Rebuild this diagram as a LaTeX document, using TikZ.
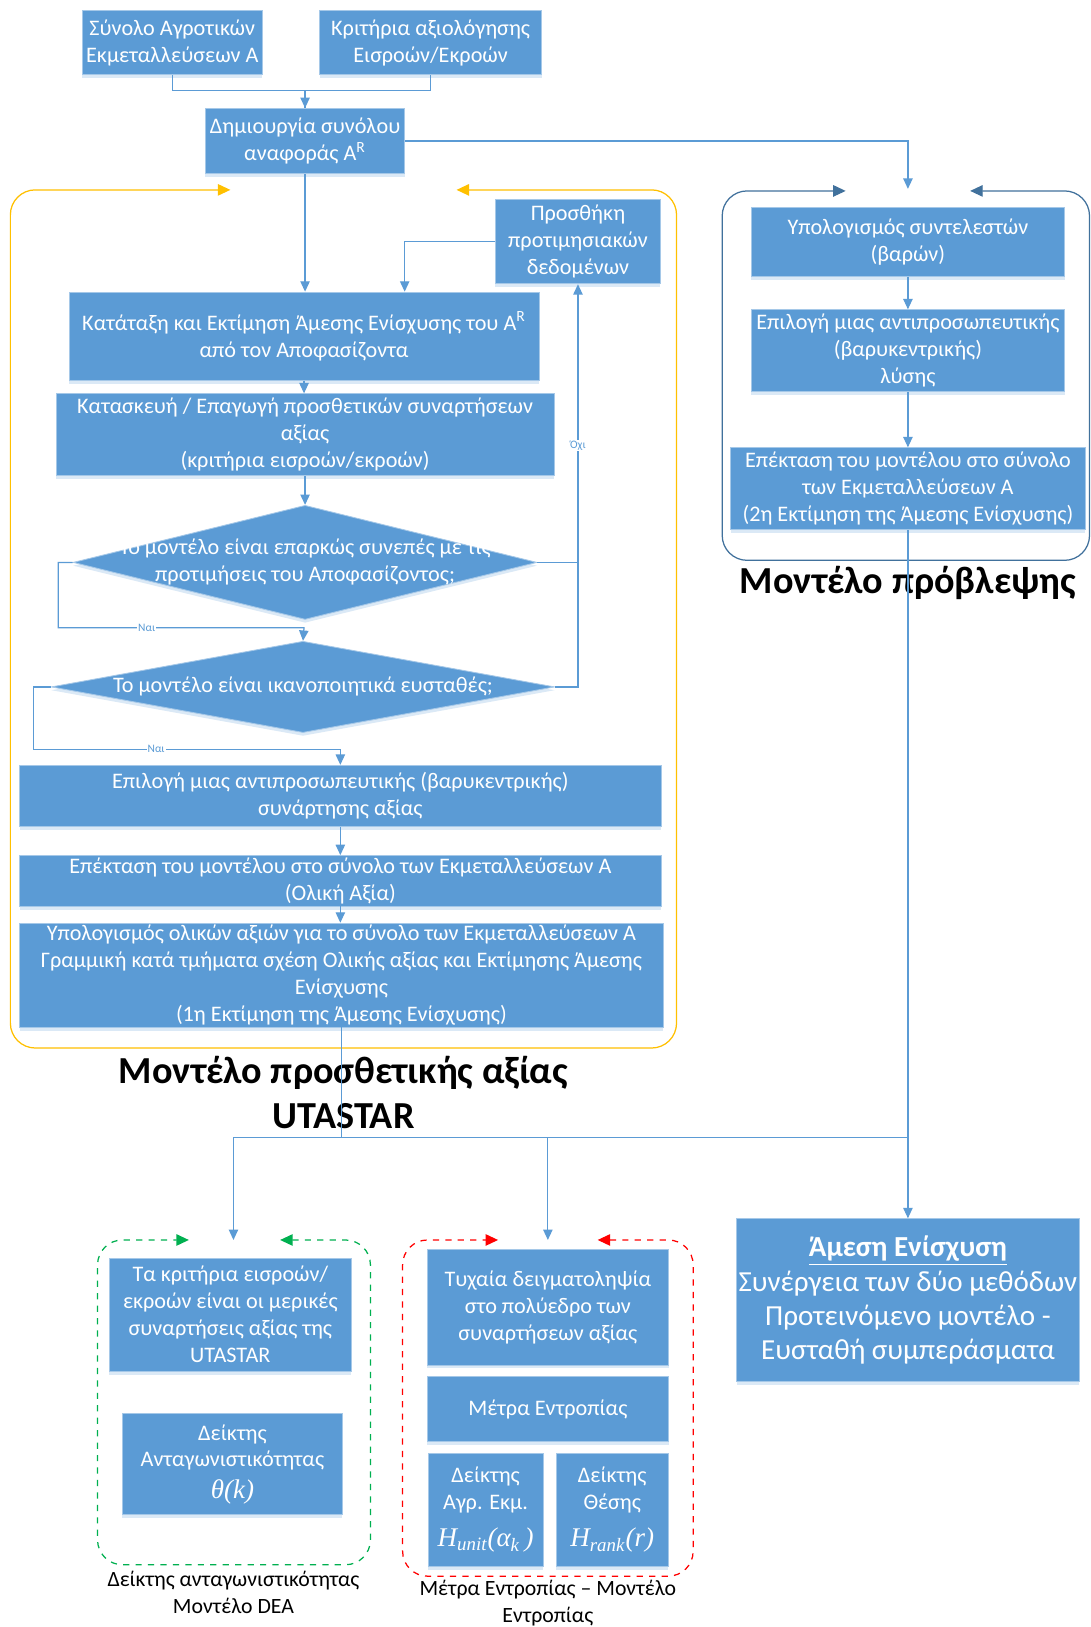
\documentclass[tikz,border=0pt]{standalone}
\usepackage{fontspec}
\setmainfont{Carlito}
\newfontfamily\tnr{Liberation Serif}
\usepackage{tikz}
\usetikzlibrary{arrows.meta,shapes.geometric,shadows}
\definecolor{boxblue}{HTML}{5B9BD5}
\definecolor{edgeblue}{HTML}{41719C}
\definecolor{frameorange}{HTML}{FFC000}
\definecolor{framegreen}{HTML}{00B050}
\definecolor{framered}{HTML}{FF0000}

\begin{document}
\begin{tikzpicture}[x=0.5pt,y=-0.5pt,
	Box/.style={rectangle, fill=boxblue, draw=boxblue!55!white, line width=0.4pt, text=white, align=center, inner sep=1pt, font=\fontsize{10.7}{13}\selectfont, drop shadow={shadow xshift=0pt, shadow yshift=-1.6pt, fill=boxblue!22, opacity=1}},
	Dec/.style={diamond, fill=boxblue, draw=boxblue!55!white, line width=0.4pt, inner sep=0pt, drop shadow={shadow xshift=0pt, shadow yshift=-1.6pt, fill=boxblue!22, opacity=1}},
	DecText/.style={text=white, align=center, font=\fontsize{10.7}{13}\selectfont},
	Flow/.style={draw=boxblue, line width=0.6pt, -{Triangle[length=5pt,width=4.5pt]}},
	Line/.style={draw=boxblue, line width=0.6pt},
	Frame/.style={line width=0.6pt, rounded corners=12pt, {Triangle[length=6pt,width=5.5pt]}-{Triangle[length=6pt,width=5.5pt]}},
	Title/.style={font=\fontsize{18.4}{22}\selectfont\bfseries, align=center},
	Note/.style={font=\fontsize{10.5}{13}\selectfont, align=center},
	Tag/.style={font=\fontsize{5.5}{6}\selectfont, text=boxblue, fill=white, inner sep=0.5pt}
	]
	\path[use as bounding box, fill=white] (0,0) rectangle (1051,1568);

	\draw[Frame, frameorange] (440,183) -- (652,183) -- (652,1010) -- (10,1010) -- (10,183) -- (222,183);
	\draw[Frame, edgeblue] (935,184) -- (1050,184) -- (1050,540) -- (696,540) -- (696,184) -- (815,184);
	\draw[Frame, framegreen, dashed] (270,1195) -- (357,1195) -- (357,1508) -- (94,1508) -- (94,1195) -- (182,1195);
	\draw[Frame, framered, dashed] (576,1195) -- (668,1195) -- (668,1519) -- (388,1519) -- (388,1195) -- (480,1195);

	\node[Box, minimum width=86.5pt, minimum height=31pt] (synolo) at (166,41) {Σύνολο Αγροτικών\\Εκμεταλλεύσεων Α};
	\node[Box, minimum width=107pt, minimum height=31pt] (kritiria) at (415,41) {Κριτήρια αξιολόγησης\\Εισροών/Εκροών};
	\node[Box, minimum width=96pt, minimum height=31.5pt] (dimiourgia) at (294,136) {Δημιουργία συνόλου\\αναφοράς A\textsuperscript{R}};
	\node[Box, minimum width=79.5pt, minimum height=40.5pt] (prosthiki) at (557,233) {Προσθήκη\\προτιμησιακών\\δεδομένων};
	\node[Box, minimum width=226.5pt, minimum height=42.5pt] (katataxi) at (293,324) {Κατάταξη και Εκτίμηση Άμεσης Ενίσχυσης του A\textsuperscript{R}\\από τον Αποφασίζοντα};
	\node[Box, minimum width=240pt, minimum height=39.5pt] (kataskevi) at (294,419) {Κατασκευή / Επαγωγή προσθετικών συναρτήσεων\\αξίας\\(κριτήρια εισροών/εκροών)};
	\node[Dec, minimum width=223.5pt, minimum height=55pt] (synepes) at (294,542) {};
	\node[DecText] (synepestext) at (synepes.center) {Το μοντέλο είναι επαρκώς συνεπές με τις\\προτιμήσεις του Αποφασίζοντος;};
	\node[Dec, minimum width=242.5pt, minimum height=44pt] (efstathes) at (292,662) {};
	\node[DecText] (efstathestext) at (efstathes.center) {Το μοντέλο είναι ικανοποιητικά ευσταθές;};
	\node[Box, minimum width=309pt, minimum height=29.5pt] (synartisi) at (328,767) {Επιλογή μιας αντιπροσωπευτικής (βαρυκεντρικής)\\συνάρτησης αξίας};
	\node[Box, minimum width=309pt, minimum height=24.5pt] (olikiaxia) at (328,849) {Επέκταση του μοντέλου στο σύνολο των Εκμεταλλεύσεων Α\\(Ολική Αξία)};
	\node[Box, minimum width=310pt, minimum height=49.5pt] (ektimisi1) at (329,940) {Υπολογισμός ολικών αξιών για το σύνολο των Εκμεταλλεύσεων Α\\Γραμμική κατά τμήματα σχέση Ολικής αξίας και Εκτίμησης Άμεσης\\Ενίσχυσης\\(1η Εκτίμηση της Άμεσης Ενίσχυσης)};

	\node[Box, minimum width=151pt, minimum height=33.5pt] (syntelestes) at (875,233) {Υπολογισμός συντελεστών\\(βαρών)};
	\node[Box, minimum width=151pt, minimum height=39.5pt] (lysi) at (875,338) {Επιλογή μιας αντιπροσωπευτικής\\(βαρυκεντρικής)\\λύσης};
	\node[Box, minimum width=171pt, minimum height=39.5pt] (ektimisi2) at (875,471) {Επέκταση του μοντέλου στο σύνολο\\των Εκμεταλλεύσεων Α\\(2η Εκτίμηση της Άμεσης Ενίσχυσης)};

	\node[Box, minimum width=116.5pt, minimum height=54.5pt] (merikes) at (222,1267) {Τα κριτήρια εισροών/\\εκροών είναι οι μερικές\\συναρτήσεις αξίας της\\UTASTAR};
	\node[Box, minimum width=106pt, minimum height=48.5pt] (theta) at (224,1411) {Δείκτης\\Ανταγωνιστικότητας\\[2pt]{\tnr\itshape\fontsize{13}{15}\selectfont θ(k)}};
	\node[Box, minimum width=116.5pt, minimum height=55.5pt] (deigma) at (528,1260) {Τυχαία δειγματοληψία\\στο πολύεδρο των\\συναρτήσεων αξίας};
	\node[Box, minimum width=116.5pt, minimum height=31.5pt] (entropia) at (528,1358) {Μέτρα Εντροπίας};
	\node[Box, minimum width=55.5pt, minimum height=54.5pt] (hunit) at (468,1455) {Δείκτης\\Αγρ. Εκμ.\\[5pt]{\tnr\itshape\fontsize{13}{15}\selectfont H\textsubscript{unit}(α\textsubscript{k}\,)}};
	\node[Box, minimum width=54pt, minimum height=54.5pt] (hrank) at (590,1455) {Δείκτης\\Θέσης\\[5pt]{\tnr\itshape\fontsize{13}{15}\selectfont H\textsubscript{rank}(r)}};
	\node[Box, minimum width=164.5pt, minimum height=78.5pt, font=\fontsize{14}{16.5}\selectfont] (amesi) at (875,1253) {\underline{\textbf{Άμεση Ενίσχυση}}\\Συνέργεια των δύο μεθόδων\\Προτεινόμενο μοντέλο -\\Ευσταθή συμπεράσματα};

	\node[Title] (utastar) at (331,1053) {Μοντέλο προσθετικής αξίας\\UTASTAR};
	\node[Title] (provlepsi) at (875,562) {Μοντέλο πρόβλεψης};
	\node[Note] (dea) at (225,1535) {Δείκτης ανταγωνιστικότητας\\Μοντέλο DEA};
	\node[Note] (entropiamodel) at (528,1545) {Μέτρα Εντροπίας – Μοντέλο\\Εντροπίας};

	\coordinate (predin) at (875,182);
	\coordinate (nai1) at (293,605);
	\coordinate (nai2) at (328,722);
	\coordinate (hub) at (329,1096);
	\coordinate (deain) at (225,1195);
	\coordinate (entin) at (528,1195);

	\draw[Flow] (synolo.south) -- ++(0,15) -| (dimiourgia.north);
	\draw[Line] (kritiria.south) -- ++(0,15) -| (dimiourgia.north);
	\draw[Flow] (dimiourgia.east) -| (predin);
	\draw[Flow] (dimiourgia.south) -- (dimiourgia.south |- katataxi.north);
	\draw[Flow] (prosthiki.west) -| ([xshift=48.5pt]katataxi.north);
	\draw[Flow] (katataxi.south) -- (katataxi.south |- kataskevi.north);
	\draw[Flow] (kataskevi.south) -- (synepes.north);
	\draw[Flow] (synepes.west) -- ++(-14,0) |- node[Tag, pos=0.68] (nai1tag) {Ναι} (nai1) -- (efstathes.north);
	\draw[Flow] (synepes.east) -| node[Tag, pos=0.71] (oxitag) {Όχι} (prosthiki.south);
	\draw[Line] (efstathes.east) -| (synepes.east -| prosthiki.south);
	\draw[Flow] (efstathes.west) -- ++(-17,0) |- node[Tag, pos=0.7] (nai2tag) {Ναι} (nai2) -- (synartisi.north);
	\draw[Flow] (synartisi.south) -- (olikiaxia.north);
	\draw[Flow] ([yshift=5pt]olikiaxia.south) -- (ektimisi1.north -| olikiaxia.south);
	\draw[Flow] (syntelestes.south) -- (lysi.north);
	\draw[Flow] (lysi.south) -- (ektimisi2.north);
	\draw[Line] ([yshift=5pt]ektimisi1.south) -- (hub);
	\draw[Flow] (hub) -| (deain);
	\draw[Flow] (hub) -| (entin);
	\draw[Line] (hub) -- (hub -| amesi.north);
	\draw[Flow] (ektimisi2.south) -- (amesi.north);
\end{tikzpicture}
\end{document}
